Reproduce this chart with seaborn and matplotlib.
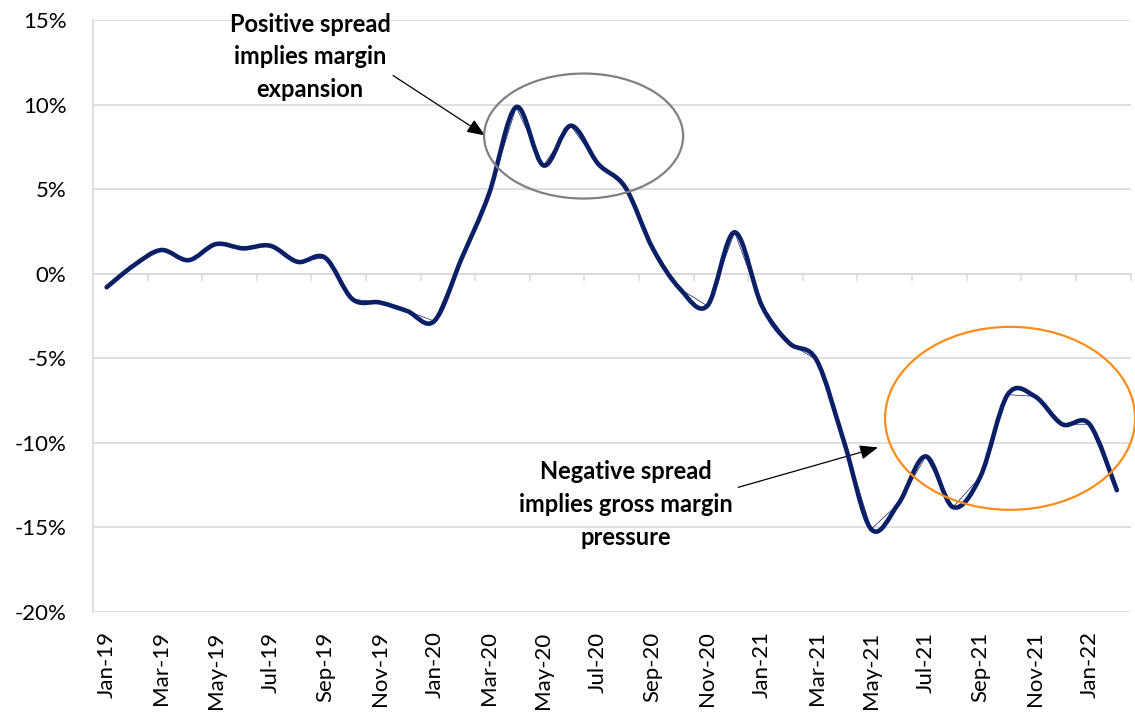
import numpy as np
import pandas as pd
import matplotlib
matplotlib.use("Agg")
import matplotlib.pyplot as plt
from matplotlib.path import Path
from matplotlib.patches import PathPatch, Ellipse
import seaborn as sns

# ---------------- data ----------------
months = ["Jan-19", "Feb-19", "Mar-19", "Apr-19", "May-19", "Jun-19", "Jul-19", "Aug-19",
          "Sep-19", "Oct-19", "Nov-19", "Dec-19", "Jan-20", "Feb-20", "Mar-20", "Apr-20",
          "May-20", "Jun-20", "Jul-20", "Aug-20", "Sep-20", "Oct-20", "Nov-20", "Dec-20",
          "Jan-21", "Feb-21", "Mar-21", "Apr-21", "May-21", "Jun-21", "Jul-21", "Aug-21",
          "Sep-21", "Oct-21", "Nov-21", "Dec-21", "Jan-22", "Feb-22"]
spread = [-0.8, 0.5, 1.4, 0.8, 1.75, 1.5, 1.65, 0.7,
          0.95, -1.5, -1.7, -2.2, -2.8, 0.9, 4.7, 9.85,
          6.4, 8.75, 6.5, 5.1, 1.5, -0.9, -1.9, 2.45,
          -1.9, -4.1, -5.1, -9.9, -15.1, -13.6, -10.8, -13.8,
          -12.0, -7.15, -7.25, -8.9, -8.9, -12.8]
y_ticks = [-20, -15, -10, -5, 0, 5, 10, 15]
tick_label_every = 2

NAVY = "#0A1F66"
GRID = "#D9D9D9"

df = pd.DataFrame({"idx": np.arange(len(months)), "month": months, "spread": spread})

sns.set_theme(style="white")
plt.rcParams["font.family"] = ["Lato", "DejaVu Sans"]

fig = plt.figure(figsize=(11.35, 7.15), dpi=100)
ax = fig.add_axes([93 / 1135, 1 - 612 / 715, (1130.5 - 93) / 1135, (612 - 20) / 715])

# base line through the data (sits under the smooth curve)
sns.lineplot(data=df, x="idx", y="spread", ax=ax, color=NAVY, linewidth=0.5, zorder=3)

# Excel-style smoothed line: cubic Bezier segments through each data point
xs = df["idx"].to_numpy(dtype=float)
ys = df["spread"].to_numpy(dtype=float)
verts = [(xs[0], ys[0])]
codes = [Path.MOVETO]
n = len(xs)
for i in range(n - 1):
    p0 = np.array([xs[max(i - 1, 0)], ys[max(i - 1, 0)]])
    p1 = np.array([xs[i], ys[i]])
    p2 = np.array([xs[i + 1], ys[i + 1]])
    p3 = np.array([xs[min(i + 2, n - 1)], ys[min(i + 2, n - 1)]])
    c1 = p1 + (p2 - p0) / 6.0
    c2 = p2 - (p3 - p1) / 6.0
    verts += [tuple(c1), tuple(c2), tuple(p2)]
    codes += [Path.CURVE4] * 3
ax.add_patch(PathPatch(Path(verts, codes), fill=False, edgecolor=NAVY, linewidth=3.3,
                       capstyle="round", joinstyle="round", zorder=4))

# axes styling
ax.set_xlim(-0.5, len(months) - 0.5)
ax.set_ylim(-20, 15)
ax.set_yticks(y_ticks)
ax.set_yticklabels([f"{v}%" for v in y_ticks])
label_pos = list(range(0, len(months), tick_label_every))
ax.set_xticks(label_pos)
ax.set_xticklabels([months[i] for i in label_pos], rotation=90, va="top", ha="center")
ax.tick_params(axis="x", length=0, pad=14, labelsize=16, labelcolor="black")
ax.tick_params(axis="y", length=0, pad=19, labelsize=16, labelcolor="black")
ax.set_xlabel("")
ax.set_ylabel("")
ax.grid(axis="y", color=GRID, linewidth=1.2)
ax.grid(axis="x", visible=False)
ax.set_axisbelow(True)
for s in ["top", "right", "bottom"]:
    ax.spines[s].set_visible(False)
ax.spines["left"].set_color(GRID)
ax.spines["left"].set_linewidth(1.2)

# category axis crossing at 0% with tick marks between categories
sec = ax.secondary_xaxis(20 / 35)
sec.set_alignment("bottom")
boundaries = [b - 0.5 for b in range(2, len(months) + 1, 2)]
sec.set_xticks(boundaries)
sec.tick_params(axis="x", direction="out", length=5, width=1.1, color=GRID, labelbottom=False)
sec.spines["bottom"].set_color(GRID)
sec.spines["bottom"].set_linewidth(1.2)

# annotations
bold = dict(fontsize=17, fontweight="bold", ha="center", va="baseline", color="black",
            family=["Lato", "DejaVu Sans"])
for txt, yy in zip(["Positive spread", "implies margin", "expansion"], [14.32, 12.37, 10.42]):
    ax.text(7.45, yy, txt, clip_on=False, **bold)
for txt, yy in zip(["Negative spread", "implies gross margin", "pressure"], [-12.16, -14.11, -16.06]):
    ax.text(19.02, yy, txt, clip_on=False, zorder=6, **bold)

arrow = dict(arrowstyle="-|>,head_length=0.55,head_width=0.22", mutation_scale=20,
             color="black", lw=0.9, shrinkA=0, shrinkB=0)
ax.annotate("", xy=(13.86, 8.17), xytext=(10.49, 11.72), arrowprops=arrow, annotation_clip=False)
ax.annotate("", xy=(28.25, -10.27), xytext=(23.13, -12.63), arrowprops=arrow, annotation_clip=False)

ax.add_patch(Ellipse((17.47, 8.14), 7.29, 7.39, fill=False, edgecolor="#808080",
                     linewidth=1.6, zorder=5, clip_on=False))
ax.add_patch(Ellipse((33.09, -8.55), 9.16, 10.82, fill=False, edgecolor="#FF8C1A",
                     linewidth=1.6, zorder=5, clip_on=False))

fig.savefig("out.png", dpi=100)
